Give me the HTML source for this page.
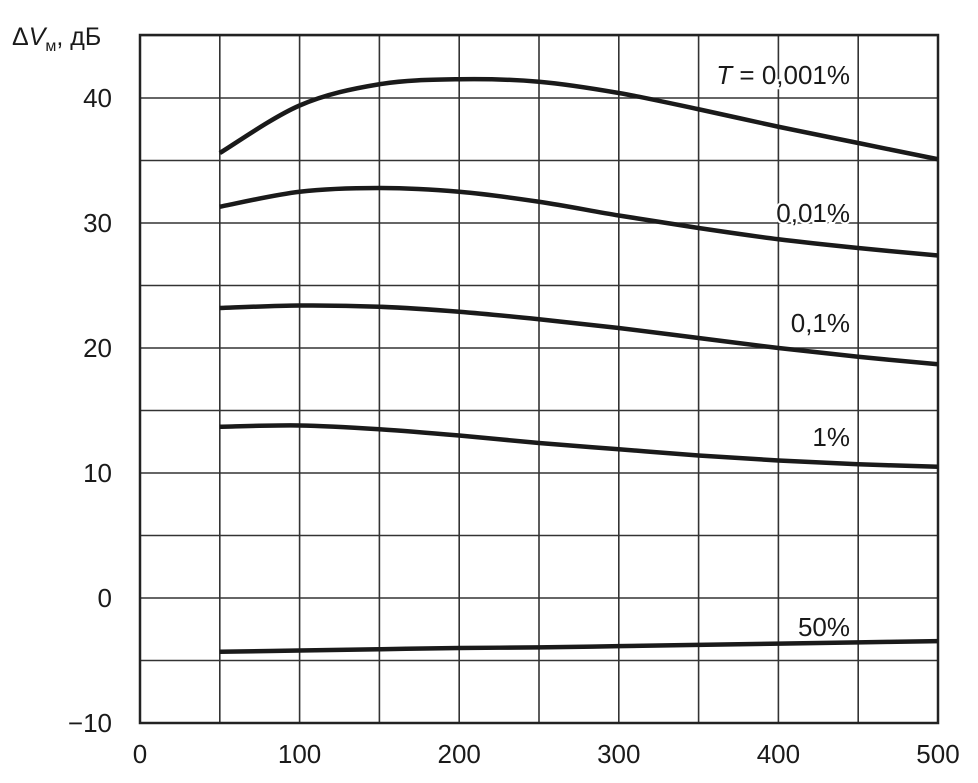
<!DOCTYPE html>
<html><head><meta charset="utf-8"><style>
body{margin:0;background:#fff;}
svg text{font-family:"Liberation Sans",sans-serif;fill:#1a1a1a;}
</style></head><body>
<svg id="chart" width="978" height="778" viewBox="0 0 978 778"></svg>
<script>
const xValues=[50,100,150,200,250,300,350,400,450,500];
const s0001=[35.6,39.4,41.1,41.5,41.3,40.4,39.1,37.7,36.4,35.1];
const s001=[31.3,32.5,32.8,32.5,31.7,30.6,29.6,28.7,28.0,27.4];
const s01=[23.2,23.4,23.3,22.9,22.3,21.6,20.8,20.0,19.3,18.7];
const s1=[13.7,13.8,13.5,13.0,12.4,11.9,11.4,11.0,10.7,10.5];
const s50=[-4.3,-4.2,-4.1,-4.0,-3.95,-3.85,-3.75,-3.65,-3.55,-3.45];
const seriesLabels=["T = 0,001%","0,01%","0,1%","1%","50%"];
const xTicks=[0,100,200,300,400,500];
const yTicks=[-10,0,10,20,30,40];
const svg=document.getElementById('chart');
const NS='http://www.w3.org/2000/svg';
const X0=140,X1=938,Y0=723,Y1=35;
function sx(v){return X0+(v-0)/500*(X1-X0);}
function sy(v){return 598-(v)*12.5;}
function mk(t,a){const e=document.createElementNS(NS,t);for(const k in a)e.setAttribute(k,a[k]);svg.appendChild(e);return e;}
for(let v=50;v<500;v+=50){const g=mk('line',{x1:sx(v),x2:sx(v),y1:Y1,y2:Y0,stroke:'#333','stroke-width':1.6});

}
for(let v=-5;v<=45;v+=5){const g=mk('line',{x1:X0,x2:X1,y1:sy(v),y2:sy(v),stroke:'#333','stroke-width':1.6});

}
const fr=mk('rect',{x:X0,y:Y1,width:X1-X0,height:Y0-Y1,fill:'none',stroke:'#222','stroke-width':2.5});


xTicks.forEach(v=>{const t=mk('text',{x:sx(v),y:763,'text-anchor':'middle','font-size':26});t.textContent=v;

});
yTicks.forEach(v=>{const t=mk('text',{x:112,y:sy(v)+9,'text-anchor':'end','font-size':26});t.textContent=v<0?'\u2212'+(-v):v;

});
const yt=mk('text',{x:12,y:45,'font-size':25});
yt.innerHTML='\u0394<tspan font-style="italic">V</tspan><tspan font-size="16" dy="6">\u043c</tspan><tspan dy="-6">, \u0434\u0411</tspan>';


function pathFor(ys){const p=xValues.map((x,i)=>[sx(x),sy(ys[i])]);let d='M'+p[0][0]+','+p[0][1];
for(let i=0;i<p.length-1;i++){const a=p[i-1]||p[i],b=p[i],c=p[i+1],e=p[i+2]||c;
d+=` C${b[0]+(c[0]-a[0])/6},${b[1]+(c[1]-a[1])/6} ${c[0]-(e[0]-b[0])/6},${c[1]-(e[1]-b[1])/6} ${c[0]},${c[1]}`;}return d;}
const all=[s0001,s001,s01,s1,s50];
const names=['curve-0001','curve-001','curve-01','curve-1','curve-50'];
const labY=[84,222,332,446,636];
all.forEach((s,i)=>{const p=mk('path',{d:pathFor(s),fill:'none',stroke:'#1a1a1a','stroke-width':4.5});


const t=mk('text',{x:850,y:labY[i],'text-anchor':'end','font-size':26,stroke:'#fff','stroke-width':4,'paint-order':'stroke'});
if(i===0)t.innerHTML='<tspan font-style="italic">T</tspan> = 0,001%';else t.textContent=seriesLabels[i];

});
</script>
</body></html>
